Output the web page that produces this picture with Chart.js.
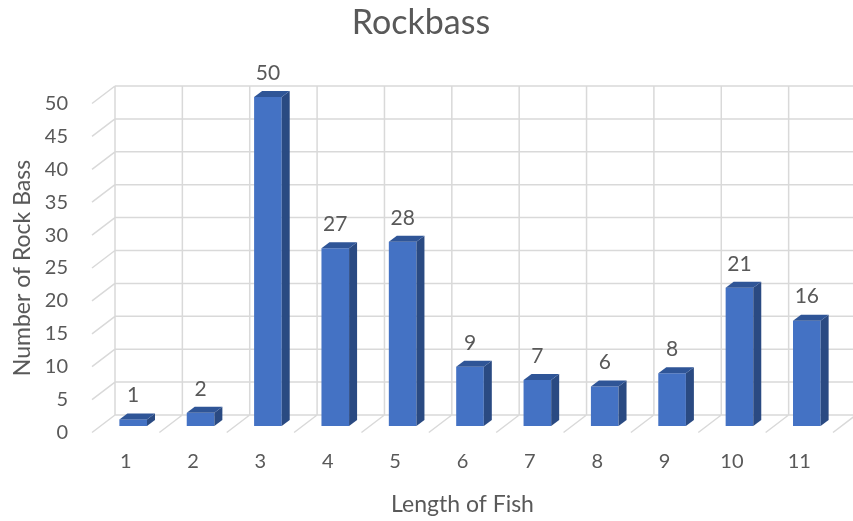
<!DOCTYPE html>
<html>
<head>
<meta charset="utf-8">
<script src="https://cdn.jsdelivr.net/npm/chart.js@4.4.1/dist/chart.umd.min.js"></script>
<style>
  html, body { margin: 0; padding: 0; background: #ffffff; }
  #wrap { width: 853px; height: 521px; }
</style>
</head>
<body>
<div id="wrap"><canvas id="chart" width="853" height="521"></canvas></div>
<script>
// Fish length classes and how many rock bass fell into each
const lengths = ['1', '2', '3', '4', '5', '6', '7', '8', '9', '10', '11'];
const fishCounts = [1, 2, 50, 27, 28, 9, 7, 6, 8, 21, 16];
const yTickValues = [0, 5, 10, 15, 20, 25, 30, 35, 40, 45, 50];

const TEXT = '#595959';
const GRID = '#d9d9d9';
const FRONT = '#4472c4';
const TOP = '#2f5597';
const SIDE = '#2a4a82';
const FONT = 'Lato';

// Depth of the box: back wall sits up and to the right of the front plane
const WALL_DX = 23, WALL_DY = 17.5;
// Bars stand a little way into the box, and have their own depth
const BAR_DX = 7.5, BAR_DY = -6.5;
const BAR_DEPTH_X = 8, BAR_DEPTH_Y = 6;

const depthPlugin = {
  id: 'depth3d',
  beforeDatasetsDraw(chart) {
    const { ctx, scales: { x, y } } = chart;
    const n = lengths.length;
    const cat = x.getPixelForValue(1) - x.getPixelForValue(0);
    const backX = i => x.getPixelForValue(0) - cat / 2 + i * cat + WALL_DX;
    const backY = v => y.getPixelForValue(v) - WALL_DY;
    const wallTop = backY(yTickValues[yTickValues.length - 1]);
    const wallBottom = backY(0);

    ctx.save();
    ctx.strokeStyle = GRID;
    ctx.lineWidth = 1.5;
    ctx.beginPath();
    // back wall rows and side wall diagonals
    yTickValues.forEach(v => {
      const py = backY(v);
      ctx.moveTo(backX(0), py);
      ctx.lineTo(backX(n), py);
      ctx.moveTo(backX(0), py);
      ctx.lineTo(backX(0) - WALL_DX, py + WALL_DY);
    });
    // back wall columns and floor diagonals
    for (let i = 0; i <= n; i++) {
      const px = backX(i);
      ctx.moveTo(px, wallTop);
      ctx.lineTo(px, wallBottom);
      ctx.lineTo(px - WALL_DX, wallBottom + WALL_DY);
    }
    ctx.stroke();
    ctx.restore();

    // bars are drawn shifted into the box
    ctx.save();
    ctx.translate(BAR_DX, BAR_DY);
  },
  afterDatasetsDraw(chart) {
    const ctx = chart.ctx;
    const meta = chart.getDatasetMeta(0);
    const values = chart.data.datasets[0].data;
    meta.data.forEach((bar, i) => {
      const { x, y, base, width } = bar.getProps(['x', 'y', 'base', 'width'], true);
      const l = x - width / 2, r = x + width / 2;
      // side face
      ctx.fillStyle = SIDE;
      ctx.beginPath();
      ctx.moveTo(r, y);
      ctx.lineTo(r + BAR_DEPTH_X, y - BAR_DEPTH_Y);
      ctx.lineTo(r + BAR_DEPTH_X, base - BAR_DEPTH_Y);
      ctx.lineTo(r, base);
      ctx.closePath();
      ctx.fill();
      // top face
      ctx.fillStyle = TOP;
      ctx.beginPath();
      ctx.moveTo(l, y);
      ctx.lineTo(l + BAR_DEPTH_X, y - BAR_DEPTH_Y);
      ctx.lineTo(r + BAR_DEPTH_X, y - BAR_DEPTH_Y);
      ctx.lineTo(r, y);
      ctx.closePath();
      ctx.fill();
      // value label
      ctx.fillStyle = TEXT;
      ctx.font = '21px ' + FONT;
      ctx.textAlign = 'center';
      ctx.textBaseline = 'middle';
      ctx.fillText(String(values[i]), x, y - 24);
    });
    ctx.restore();
  }
};

new Chart(document.getElementById('chart'), {
  type: 'bar',
  data: {
    labels: lengths,
    datasets: [{
      data: fishCounts,
      backgroundColor: FRONT,
      borderWidth: 0,
      categoryPercentage: 1,
      barPercentage: 0.41,
      clip: false
    }]
  },
  options: {
    responsive: false,
    animation: false,
    devicePixelRatio: 1,
    layout: { padding: { left: 9, right: 20, top: 0, bottom: 0 } },
    plugins: {
      legend: { display: false },
      tooltip: { enabled: false },
      title: {
        display: true,
        text: 'Rockbass',
        color: TEXT,
        font: { family: FONT, size: 34, weight: 'normal', lineHeight: 1.2 },
        padding: { top: 3, bottom: 59.7 }
      }
    },
    scales: {
      x: {
        grid: { display: false, drawTicks: false },
        border: { display: false },
        ticks: { color: TEXT, font: { family: FONT, size: 20 }, padding: 17, maxRotation: 0 },
        title: {
          display: true,
          text: 'Length of Fish',
          color: TEXT,
          font: { family: FONT, size: 23, lineHeight: 1.2 },
          padding: { top: 0, bottom: 3 }
        },
        afterFit(s) { s.height = 88.5; }
      },
      y: {
        min: 0,
        max: 50,
        grid: { display: false, drawTicks: false },
        border: { display: false },
        ticks: { stepSize: 5, color: TEXT, font: { family: FONT, size: 20 }, padding: 24 },
        title: {
          display: true,
          text: 'Number of Rock Bass',
          color: TEXT,
          font: { family: FONT, size: 23, lineHeight: 1.2 },
          padding: { top: 0, bottom: 0 }
        },
        afterFit(s) { s.width = 83; }
      }
    }
  },
  plugins: [depthPlugin]
});
</script>
</body>
</html>
